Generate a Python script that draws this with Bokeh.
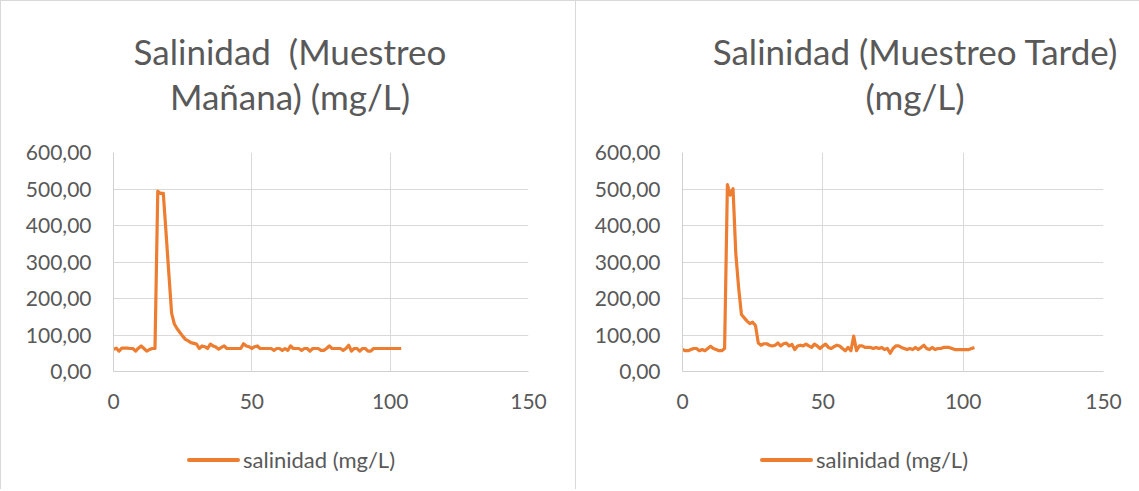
from bokeh.plotting import figure
from bokeh.layouts import row, column
from bokeh.models import Div, FixedTicker, CustomJSTickFormatter, Range1d
from bokeh.embed import file_html
from bokeh.resources import INLINE

# ---- data ----
x_idx = list(range(105))
manana = [61, 64, 56, 64, 64, 64, 63, 63, 56, 64, 70, 63, 56, 60, 63, 63,
          494, 488, 488, 379, 269, 160, 130, 117, 107, 97, 88, 84, 79, 77, 75,
          63, 70, 68, 63, 75, 70, 67, 61, 66, 70, 63, 63, 63, 63, 63, 63, 76,
          70, 68, 63, 68, 70, 63, 63, 63, 63, 63, 58, 63, 63, 58, 63, 58, 70,
          63, 63, 63, 58, 63, 63, 56, 63, 63, 63, 58, 58, 63, 70, 63, 63, 63,
          63, 58, 63, 72, 56, 63, 63, 56, 63, 63, 56, 56, 63, 63, 63, 63, 63,
          63, 63, 63, 63, 63, 63]
tarde = [60, 57, 57, 60, 63, 63, 57, 60, 57, 63, 69, 63, 60, 57, 57, 63,
         512, 483, 501, 322, 230, 156, 147, 138, 131, 135, 126, 78, 72, 76,
         76, 72, 70, 72, 78, 70, 76, 78, 70, 74, 60, 70, 72, 70, 75, 70, 66,
         75, 70, 63, 70, 75, 66, 63, 68, 72, 70, 63, 57, 66, 57, 97, 57, 70,
         70, 66, 66, 66, 63, 66, 63, 66, 60, 63, 50, 63, 70, 70, 66, 63, 60,
         63, 60, 66, 60, 66, 72, 63, 60, 66, 60, 63, 63, 66, 66, 66, 63, 60,
         60, 60, 60, 60, 60, 63, 66]
x_ticks = [0, 50, 100, 150]
y_ticks = [0, 100, 200, 300, 400, 500, 600]
titles = [["Salinidad&nbsp;&nbsp;(Muestreo", "Mañana) (mg/L)"],
          ["Salinidad (Muestreo Tarde)", "(mg/L)"]]
series_name = "salinidad (mg/L)"

ORANGE = "#ED7D31"
GRID = "#D9D9D9"
TXT = "#595959"
FONT = "Lato"

TITLE_H = 120
MAIN_H = 310
LEG_H = 58


def make(yvals, title_lines, width, bl, br, title_pad, leg_x):
    title_html = (
        f'<div style="box-sizing:border-box;width:{width}px;padding-left:{title_pad}px;'
        f'padding-top:28px;text-align:center;font-family:{FONT};font-size:35px;'
        f'line-height:45px;color:{TXT};white-space:nowrap;">'
        + "<br>".join(title_lines) + "</div>"
    )
    t = Div(text=title_html, width=width, height=TITLE_H, margin=0)

    p = figure(width=width, height=MAIN_H, output_backend="svg", toolbar_location=None,
               min_border_left=bl, min_border_right=br, min_border_top=31,
               min_border_bottom=MAIN_H - 31 - 219,
               x_range=Range1d(0, 150), y_range=Range1d(0, 600), title=None)
    p.outline_line_color = None
    p.background_fill_color = "white"
    p.border_fill_color = "white"
    p.line(x_idx, yvals, line_color=ORANGE, line_width=3.2, line_join="round")
    for ax in (p.xaxis[0], p.yaxis[0]):
        ax.axis_line_color = "#D0D0D0"
        ax.major_tick_line_color = None
        ax.minor_tick_line_color = None
        ax.major_tick_in = 0
        ax.major_tick_out = 0
        ax.minor_tick_in = 0
        ax.minor_tick_out = 0
        ax.major_label_text_font = FONT
        ax.major_label_text_font_size = "21px"
        ax.major_label_text_color = TXT
    p.xaxis[0].ticker = FixedTicker(ticks=x_ticks)
    p.yaxis[0].ticker = FixedTicker(ticks=y_ticks)
    p.xaxis[0].major_label_standoff = 22
    p.yaxis[0].major_label_standoff = 22
    p.yaxis[0].formatter = CustomJSTickFormatter(code="return tick.toFixed(2).replace('.', ',');")
    p.xgrid.grid_line_color = GRID
    p.ygrid.grid_line_color = GRID

    leg_html = (
        f'<div style="margin-left:{leg_x}px;margin-top:13px;display:flex;align-items:center;'
        f'font-family:{FONT};font-size:22px;color:{TXT};white-space:nowrap;">'
        f'<span style="display:inline-block;width:53px;height:4px;background:{ORANGE};'
        f'border-radius:2px;margin-right:3px;"></span>{series_name}</div>'
    )
    leg = Div(text=leg_html, width=width, height=LEG_H, margin=0)

    return column(t, p, leg, styles={"border-top": "1px solid #D9D9D9",
                                     "border-left": "1px solid #D9D9D9"})


c1 = make(manana, titles[0], 574, 112, 47, 4, 186)
c2 = make(tarde, titles[1], 563, 106, 36, 115, 184)
layout = row(c1, c2)

open("out.html", "w").write(file_html(layout, INLINE))
